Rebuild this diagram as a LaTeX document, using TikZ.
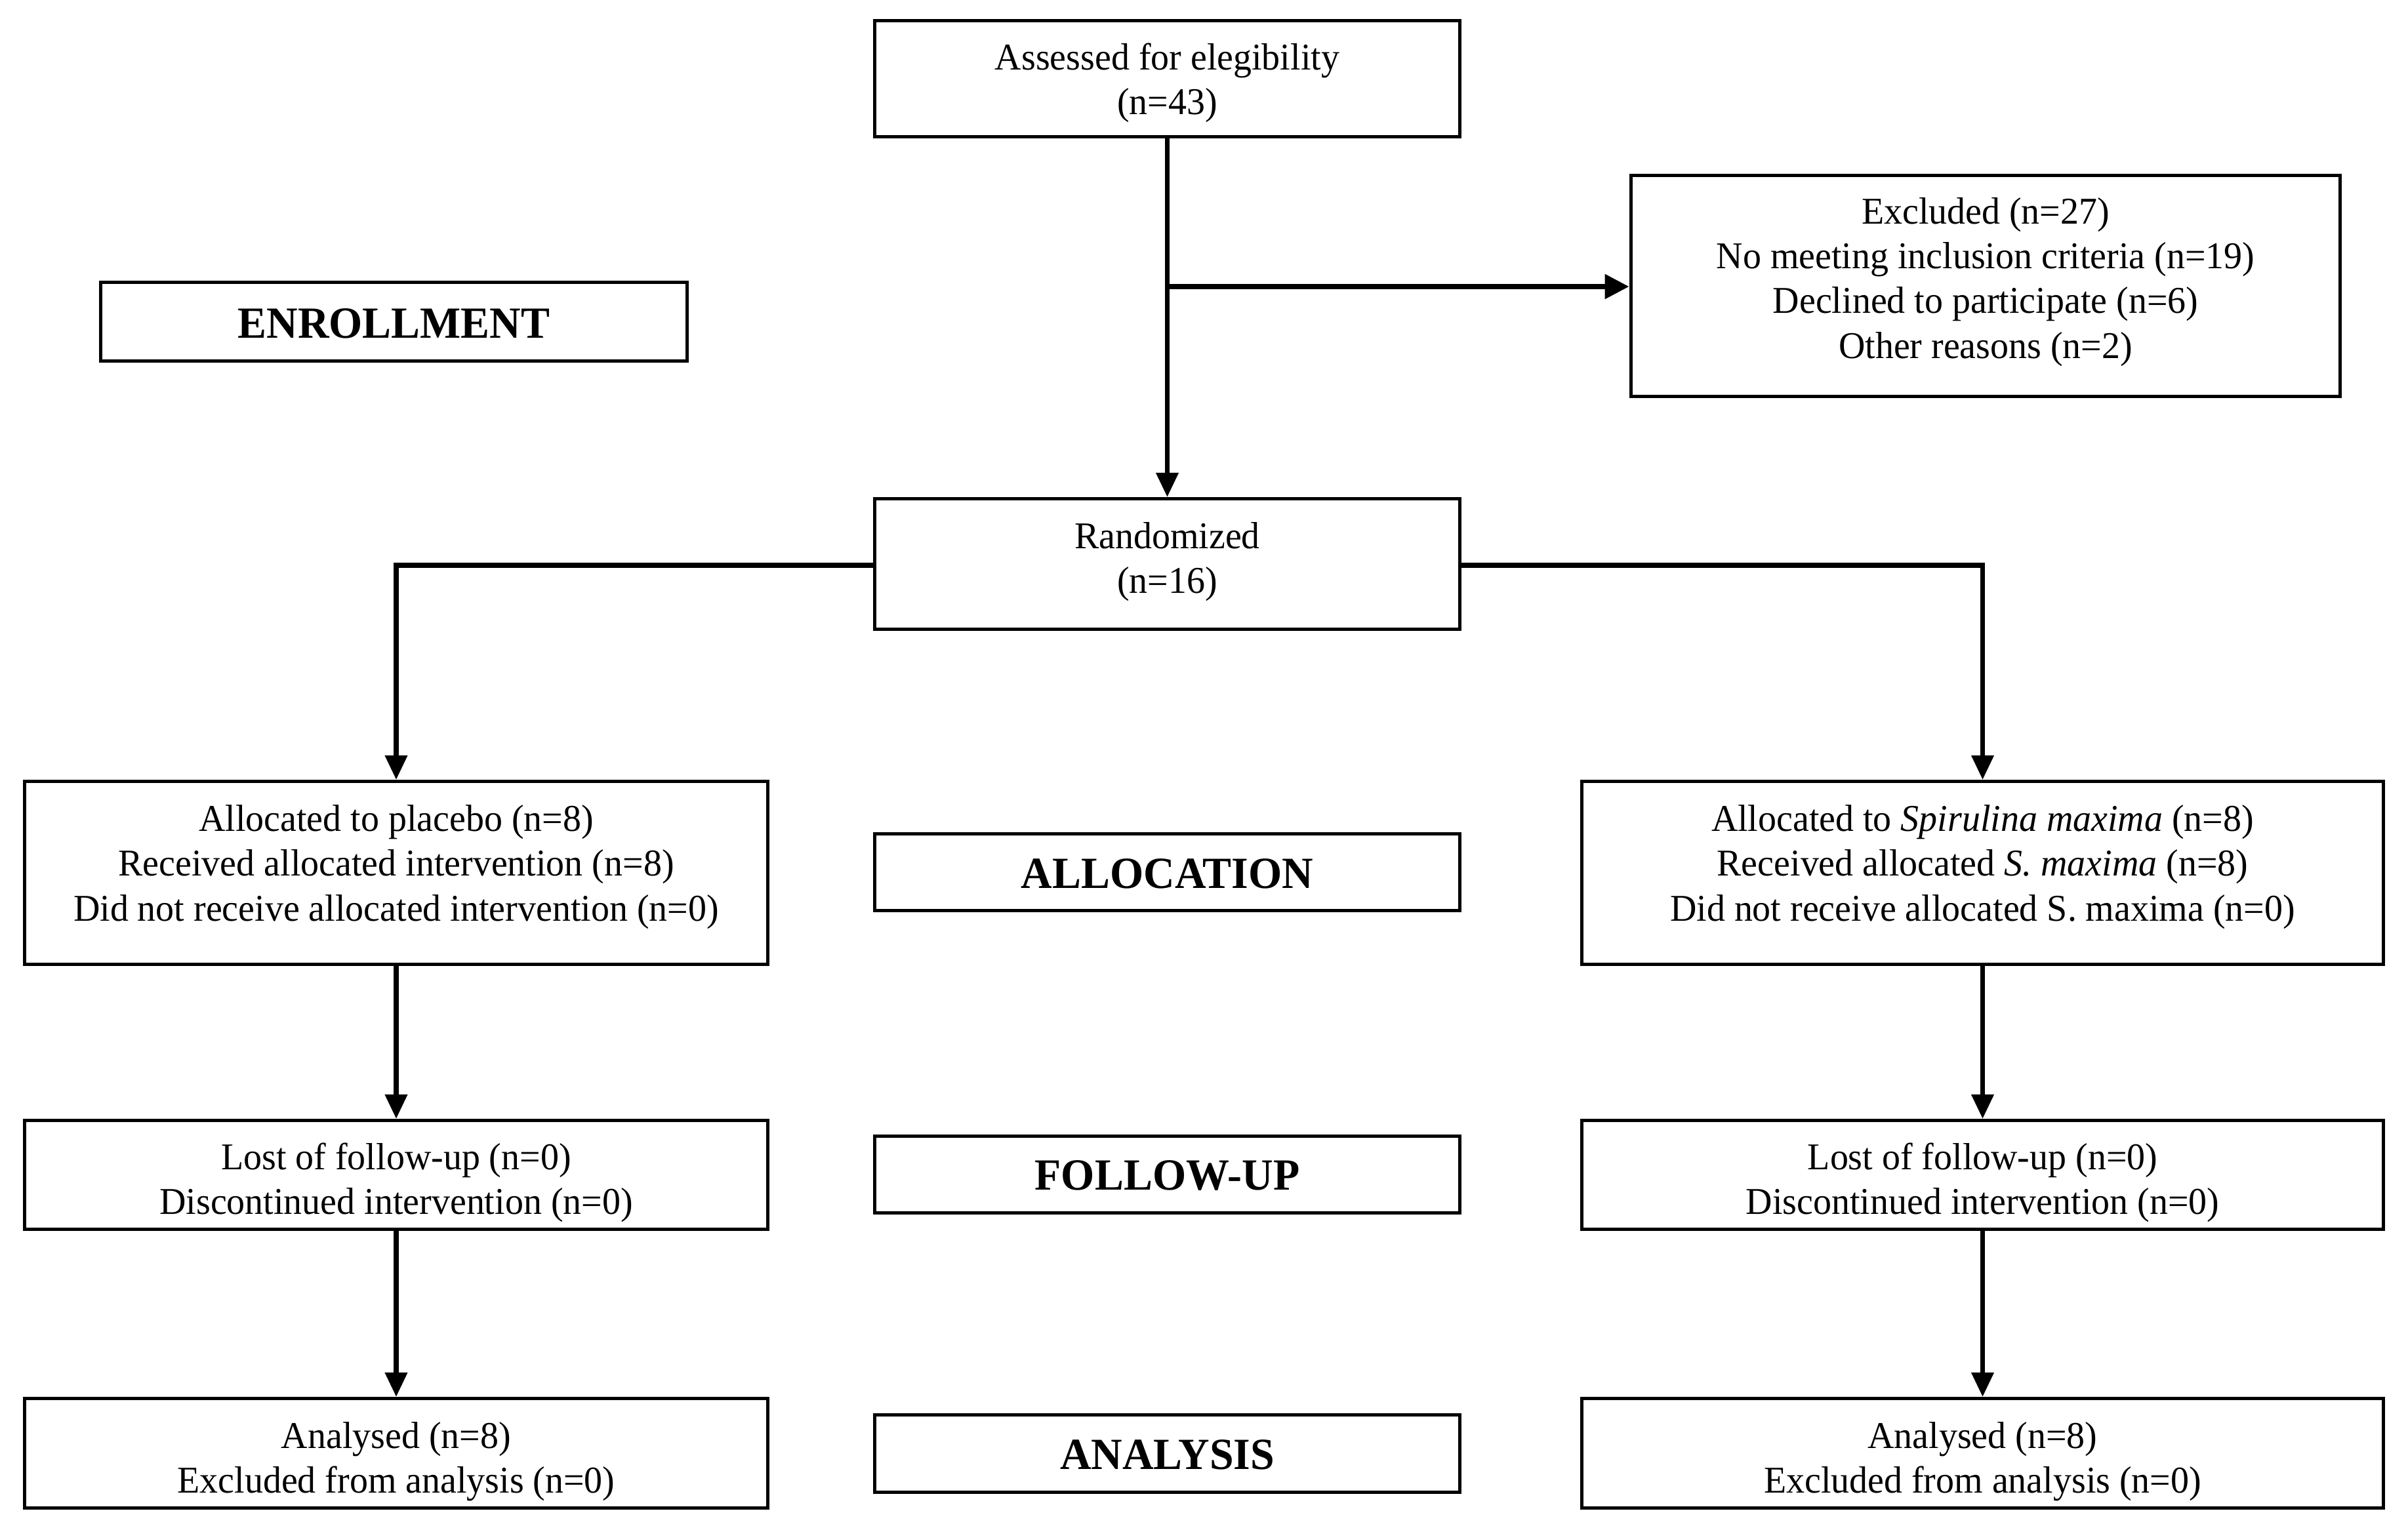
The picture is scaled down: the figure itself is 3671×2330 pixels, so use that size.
\documentclass[tikz,border=0pt]{standalone}
\usepackage{fontspec}
\setmainfont{Liberation Serif}[FakeStretch=0.97]
\usetikzlibrary{arrows.meta}
\begin{document}
\begin{tikzpicture}[x=0.01cm,y=-0.01cm,
  box/.style={draw=black, line width=1.42pt, inner sep=0pt},
  colL/.style={box, minimum width=11.33cm},
  colC/.style={box, minimum width=8.92cm},
  colR/.style={box, minimum width=12.22cm},
  txt/.style={align=center, inner sep=0pt, font=\fontsize{16.4}{19.4}\selectfont},
  hdr/.style={inner sep=0pt, font=\fontsize{19.3}{22}\selectfont\bfseries},
  conn/.style={line width=2pt, -{Triangle[length=0.37cm,width=0.33cm]}},
  thickconn/.style={line width=2.4pt, -{Triangle[length=0.37cm,width=0.36cm]}}]
\useasboundingbox (0,0) rectangle (3671,2330);

% boxes
\node[colC, minimum height=1.77cm] (assess) at (1779.5,120) {};
\node[box, minimum width=10.81cm, minimum height=3.37cm] (excl) at (3027,436) {};
\node[colC, minimum width=8.94cm, minimum height=1.20cm] (enroll) at (600.5,490.5) {};
\node[colC, minimum height=1.99cm] (rand) at (1779.5,860) {};
\node[colL, minimum height=2.79cm] (placebo) at (604,1331) {};
\node[colC, minimum height=1.17cm] (alloc) at (1779.5,1330) {};
\node[colR, minimum height=2.79cm] (spir) at (3022.5,1331) {};
\node[colL, minimum height=1.66cm] (fuL) at (604,1791.5) {};
\node[colC, minimum height=1.17cm] (fuC) at (1779.5,1791) {};
\node[colR, minimum height=1.66cm] (fuR) at (3022.5,1791.5) {};
\node[colL, minimum height=1.67cm] (anL) at (604,2216) {};
\node[colC, minimum height=1.18cm] (anC) at (1779.5,2216.5) {};
\node[colR, minimum height=1.67cm] (anR) at (3022.5,2216) {};

% texts
\node[txt] (assess-t) at (1779.5,126) {Assessed for elegibility\\(n=43)};
\node[txt] (excl-t) at (3027,430) {Excluded (n=27)\\No meeting inclusion criteria (n=19)\\Declined to participate (n=6)\\Other reasons (n=2)};
\node[hdr] (enroll-t) at (600.5,493) {ENROLLMENT};
\node[txt] (rand-t) at (1779.5,857) {Randomized\\(n=16)};
\node[txt] (placebo-t) at (604,1322) {Allocated to placebo (n=8)\\Received allocated intervention (n=8)\\Did not receive allocated intervention (n=0)};
\node[hdr] (alloc-t) at (1779.5,1332) {ALLOCATION};
\node[txt] (spir-t) at (3022.5,1322) {Allocated to \textit{Spirulina maxima} (n=8)\\Received allocated \textit{S. maxima} (n=8)\\Did not receive allocated S. maxima (n=0)};
\node[txt] (fuL-t) at (604,1803) {Lost of follow-up (n=0)\\Discontinued intervention (n=0)};
\node[hdr] (fuC-t) at (1779.5,1793) {FOLLOW-UP};
\node[txt] (fuR-t) at (3022.5,1803) {Lost of follow-up (n=0)\\Discontinued intervention (n=0)};
\node[txt] (anL-t) at (604,2229) {Analysed (n=8)\\Excluded from analysis (n=0)};
\node[hdr] (anC-t) at (1779.5,2218) {ANALYSIS};
\node[txt] (anR-t) at (3022.5,2229) {Analysed (n=8)\\Excluded from analysis (n=0)};

% connectors
\coordinate (br) at (1779.5,437);
\draw[conn] (assess) -- (rand);
\draw[thickconn] (br) -- (br -| excl.west);
\draw[conn] (rand.west |- 0,862) -| (placebo.north);
\draw[conn] (rand.east |- 0,862) -| (spir.north);
\draw[conn] (placebo) -- (fuL);
\draw[conn] (fuL) -- (anL);
\draw[conn] (spir) -- (fuR);
\draw[conn] (fuR) -- (anR);
\end{tikzpicture}
\end{document}
